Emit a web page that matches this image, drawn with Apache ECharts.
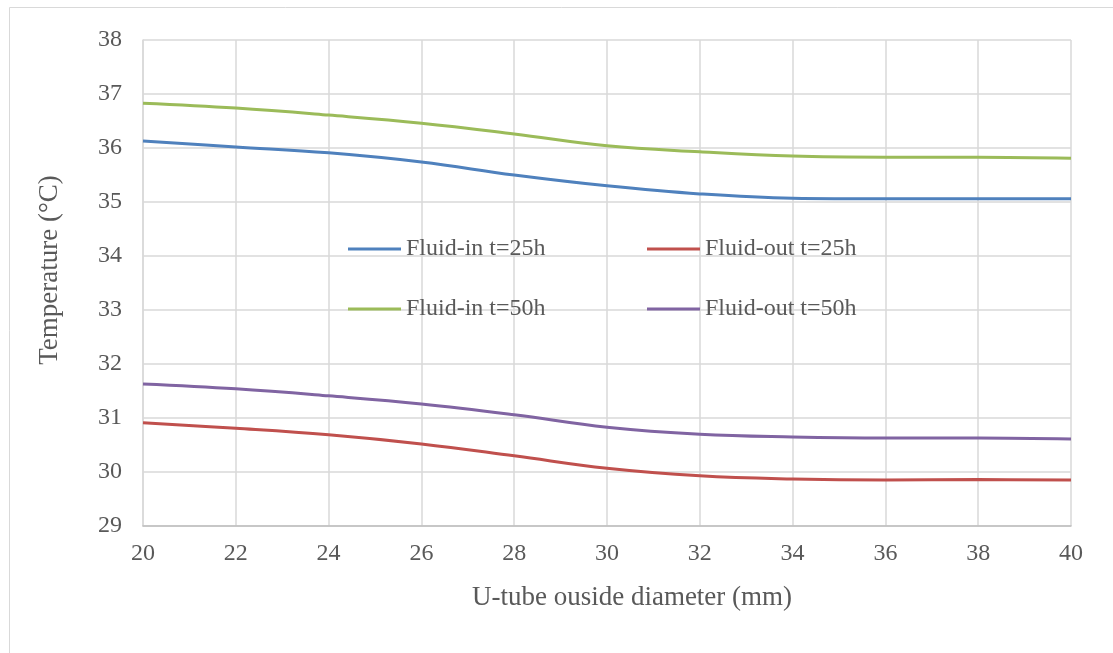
<!DOCTYPE html>
<html>
<head>
<meta charset="utf-8">
<script src="https://cdn.jsdelivr.net/npm/echarts@6/dist/echarts.min.js"></script>
<style>
  html, body { margin: 0; padding: 0; background: #fff; }
  #chart { width: 1113px; height: 653px; }
</style>
</head>
<body>
<div id="chart"></div>
<script>
// U-tube outside diameter (mm)
const diameters = [20, 22, 24, 26, 28, 30, 32, 34, 36, 38, 40];

// Fluid temperatures (°C)
const fluidIn25  = [36.13, 36.02, 35.91, 35.74, 35.50, 35.30, 35.15, 35.07, 35.06, 35.06, 35.06];
const fluidOut25 = [30.91, 30.81, 30.69, 30.52, 30.30, 30.07, 29.93, 29.87, 29.85, 29.86, 29.85];
const fluidIn50  = [36.83, 36.74, 36.61, 36.46, 36.26, 36.04, 35.93, 35.85, 35.83, 35.83, 35.81];
const fluidOut50 = [31.63, 31.54, 31.41, 31.26, 31.06, 30.83, 30.70, 30.65, 30.63, 30.63, 30.61];

const seriesNames = ['Fluid-in t=25h', 'Fluid-out t=25h', 'Fluid-in t=50h', 'Fluid-out t=50h'];
const seriesColors = ['#4f81bd', '#c0504d', '#9bbb59', '#8064a2'];
const seriesValues = [fluidIn25, fluidOut25, fluidIn50, fluidOut50];

const xTitle = 'U-tube ouside diameter (mm)';
const yTitle = 'Temperature (°C)';

const FONT = '"Liberation Serif", "Times New Roman", serif';
const TEXT = '#595959';

const chart = echarts.init(document.getElementById('chart'), null, { renderer: 'canvas' });

const pairs = vals => diameters.map((d, i) => [d, vals[i]]);

const legendCommon = {
  orient: 'vertical',
  itemWidth: 53,
  itemHeight: 12,
  itemGap: 36,
  icon: 'path://M0,5 L50,5 L50,8 L0,8 Z',
  textStyle: { fontFamily: FONT, fontSize: 24, lineHeight: 24, color: TEXT },
  padding: 0
};

chart.setOption({
  animation: false,
  backgroundColor: '#fff',
  graphic: [
    {
      type: 'rect',
      shape: { x: 9.5, y: 7.5, width: 1120, height: 660 },
      style: { fill: 'none', stroke: '#d9d9d9', lineWidth: 1 },
      silent: true
    },
    {
      type: 'text',
      x: 632, y: 598,
      style: { text: xTitle, font: '27px ' + FONT, fill: TEXT, align: 'center', verticalAlign: 'middle' },
      silent: true
    },
    {
      type: 'text',
      x: 50, y: 270,
      rotation: Math.PI / 2,
      style: { text: yTitle, font: '27px ' + FONT, fill: TEXT, align: 'center', verticalAlign: 'middle' },
      silent: true
    }
  ],
  grid: { left: 143, right: 42, top: 40, bottom: 127 },
  legend: [
    Object.assign({ left: 348, top: 237, data: [seriesNames[0], seriesNames[2]] }, legendCommon),
    Object.assign({ left: 647, top: 237, data: [seriesNames[1], seriesNames[3]] }, legendCommon)
  ],
  xAxis: {
    type: 'value',
    min: 20, max: 40, interval: 2,
    axisLine: { show: true, lineStyle: { color: '#bfbfbf', width: 1.5 } },
    axisTick: { show: false },
    axisLabel: { fontFamily: FONT, fontSize: 24, color: TEXT, margin: 16 },
    splitLine: { show: true, lineStyle: { color: '#d9d9d9', width: 1.5 } }
  },
  yAxis: {
    type: 'value',
    min: 29, max: 38, interval: 1,
    axisLine: { show: true, lineStyle: { color: '#d9d9d9', width: 1.5 } },
    axisTick: { show: false },
    axisLabel: { fontFamily: FONT, fontSize: 24, color: TEXT, margin: 21 },
    splitLine: { show: true, lineStyle: { color: '#d9d9d9', width: 1.5 } }
  },
  series: seriesNames.map((name, i) => ({
    name,
    type: 'line',
    smooth: 0.4,
    symbol: 'none',
    data: pairs(seriesValues[i]),
    itemStyle: { color: seriesColors[i] },
    lineStyle: { color: seriesColors[i], width: 3 }
  }))
});
</script>
</body>
</html>
